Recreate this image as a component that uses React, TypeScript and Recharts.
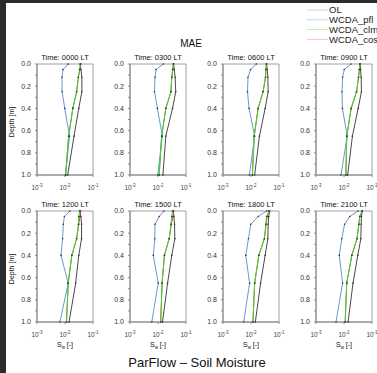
import { ScatterChart, Scatter, XAxis, YAxis, ReferenceArea } from 'recharts';

// depth nodes of the profiles [m]
const depths = [0, 0.05, 0.12, 0.25, 0.4, 0.65, 1.0];
const times = ['0000', '0300', '0600', '0900', '1200', '1500', '1800', '2100'];

// MAE of S_w per hour, one profile per panel
const olProfiles = [
  [0.035, 0.037, 0.04, 0.04, 0.031, 0.021, 0.0125],
  [0.036, 0.038, 0.041, 0.043, 0.033, 0.019, 0.015],
  [0.036, 0.038, 0.04, 0.041, 0.032, 0.02, 0.0135],
  [0.037, 0.039, 0.041, 0.042, 0.032, 0.02, 0.0135],
  [0.034, 0.037, 0.039, 0.039, 0.031, 0.024, 0.014],
  [0.035, 0.037, 0.039, 0.04, 0.031, 0.022, 0.0145],
  [0.046, 0.043, 0.041, 0.04, 0.032, 0.022, 0.0143],
  [0.045, 0.042, 0.041, 0.04, 0.031, 0.021, 0.014],
];
const pflProfiles = [
  [0.013, 0.0085, 0.0078, 0.0079, 0.0098, 0.0145, 0.0105],
  [0.0155, 0.0085, 0.0078, 0.0075, 0.0095, 0.0143, 0.0098],
  [0.0155, 0.0097, 0.0078, 0.0075, 0.0085, 0.0135, 0.0088],
  [0.0178, 0.0102, 0.0089, 0.0085, 0.0088, 0.013, 0.0078],
  [0.015, 0.0095, 0.0087, 0.0082, 0.0072, 0.013, 0.0066],
  [0.0164, 0.011, 0.0078, 0.0077, 0.0068, 0.0102, 0.006],
  [0.036, 0.018, 0.0098, 0.0081, 0.0065, 0.0089, 0.0055],
  [0.032, 0.016, 0.0105, 0.0083, 0.0068, 0.0089, 0.0052],
];
const clmProfiles = [
  [0.035, 0.033, 0.03, 0.026, 0.019, 0.0135, 0.0105],
  [0.035, 0.033, 0.031, 0.029, 0.019, 0.0135, 0.011],
  [0.035, 0.034, 0.033, 0.027, 0.018, 0.013, 0.0112],
  [0.037, 0.035, 0.033, 0.028, 0.018, 0.0125, 0.0117],
  [0.033, 0.031, 0.03, 0.026, 0.0175, 0.013, 0.0113],
  [0.033, 0.031, 0.029, 0.025, 0.017, 0.014, 0.0125],
  [0.043, 0.038, 0.035, 0.03, 0.019, 0.0135, 0.0117],
  [0.043, 0.037, 0.034, 0.029, 0.019, 0.0125, 0.011],
];
const cosProfiles = [
  [0.037, 0.034, 0.03, 0.026, 0.019, 0.0135, 0.0105],
  [0.036, 0.034, 0.031, 0.029, 0.019, 0.0135, 0.011],
  [0.036, 0.034, 0.033, 0.027, 0.018, 0.013, 0.0112],
  [0.038, 0.036, 0.033, 0.028, 0.018, 0.0125, 0.0117],
  [0.036, 0.034, 0.031, 0.026, 0.0175, 0.013, 0.0113],
  [0.036, 0.034, 0.03, 0.025, 0.017, 0.014, 0.0125],
  [0.046, 0.036, 0.034, 0.03, 0.019, 0.0135, 0.0117],
  [0.045, 0.036, 0.034, 0.029, 0.019, 0.0125, 0.011],
];

const seriesNames = ['OL', 'WCDA_pfl', 'WCDA_clm', 'WCDA_cos'];
const xTicks = [0.001, 0.01, 0.1];
const yTicks = [0, 0.1, 0.2, 0.3, 0.4, 0.5, 0.6, 0.7, 0.8, 0.9, 1.0];

const lineColors: Record<string, string> = {
  OL: '#4a4a4a',
  WCDA_pfl: '#6a98d0',
  WCDA_clm: '#2ee02e',
  WCDA_cos: '#e23b3b',
};
const legendColors: Record<string, string> = {
  OL: '#d4d4d4',
  WCDA_pfl: '#c4d6ef',
  WCDA_clm: '#b8f2b8',
  WCDA_cos: '#f5c4c4',
};

const FONT = '"Liberation Sans", Arial, Helvetica, sans-serif';
const PLOT_W = 56;
const PLOT_H = 111;
const AXIS_W = 30;
const TOP_PAD = 6;
const colLeft = [37, 130, 223, 316];
const rowTop = [64, 211];

const toPoints = (vals: number[]) => vals.map((v, i) => ({ v, d: depths[i] }));

function Marker(props: any) {
  const { cx, cy } = props;
  if (cx == null || cy == null) return null;
  return <circle cx={cx} cy={cy} r={0.8} fill="#333" />;
}

function LogTick({ x, y, payload }: any) {
  const exp = Math.round(Math.log10(payload.value));
  return (
    <text x={x} y={y} dy={11} textAnchor="middle" fontSize={6.5} fill="#444" fontFamily={FONT}>
      10
      <tspan dy={-3} fontSize={4.5}>
        {exp}
      </tspan>
    </text>
  );
}

function Text({ x, y, size, children, rotate }: any) {
  return (
    <div
      style={{
        position: 'absolute',
        left: x,
        top: y,
        transform: `translate(-50%, -50%)${rotate ? ' rotate(-90deg)' : ''}`,
        fontSize: size,
        lineHeight: 1,
        whiteSpace: 'nowrap',
        color: '#111',
      }}
    >
      {children}
    </div>
  );
}

function Panel({ idx }: { idx: number }) {
  const col = idx % 4;
  const row = Math.floor(idx / 4);
  // draw order: OL, cos, pfl, clm (green on top, red only shows where it differs)
  const series = [
    { name: 'OL', data: toPoints(olProfiles[idx]) },
    { name: 'WCDA_cos', data: toPoints(cosProfiles[idx]) },
    { name: 'WCDA_pfl', data: toPoints(pflProfiles[idx]) },
    { name: 'WCDA_clm', data: toPoints(clmProfiles[idx]) },
  ];
  return (
    <div style={{ position: 'absolute', left: colLeft[col] - AXIS_W, top: rowTop[row] - TOP_PAD }}>
      <ScatterChart
        width={AXIS_W + PLOT_W + 8}
        height={PLOT_H + 30 + TOP_PAD}
        margin={{ top: TOP_PAD, right: 8, bottom: 0, left: 0 }}
      >
        <XAxis
          type="number"
          dataKey="v"
          scale="log"
          domain={[0.001, 0.1]}
          ticks={xTicks}
          interval={0}
          height={30}
          tickSize={2}
          stroke="#888"
          tick={<LogTick />}
          allowDataOverflow
        />
        <YAxis
          type="number"
          dataKey="d"
          domain={[0, 1]}
          reversed
          ticks={yTicks}
          interval={0}
          width={AXIS_W}
          tickSize={2}
          tickMargin={4}
          stroke="#888"
          tick={{ fontSize: 7, fill: '#333', fontFamily: FONT }}
          tickFormatter={(v: number) => (Math.round(v * 10) % 2 === 0 ? v.toFixed(1) : '')}
        />
        <ReferenceArea x1={0.001} x2={0.1} y1={0} y2={1} fill="none" stroke="#888" strokeWidth={0.8} />
        {series.map((s) => (
          <Scatter
            key={s.name}
            name={s.name}
            data={s.data}
            line={{ stroke: lineColors[s.name], strokeWidth: 1 }}
            lineType="joint"
            shape={<Marker />}
            isAnimationActive={false}
          />
        ))}
      </ScatterChart>
    </div>
  );
}

export default function App() {
  return (
    <div
      style={{
        position: 'fixed',
        left: 0,
        top: 0,
        width: 377,
        height: 373,
        overflow: 'hidden',
        background: '#2b2b2b',
        fontFamily: FONT,
      }}
    >
      <div style={{ position: 'absolute', left: 6, top: 3, right: 0, bottom: 0, background: '#fff' }}>
        <div style={{ position: 'absolute', left: -6, top: -3, width: 377, height: 373 }}>
          {times.map((t, i) => (
            <Panel key={t} idx={i} />
          ))}
          {times.map((t, i) => (
            <Text key={'t' + t} x={colLeft[i % 4] + PLOT_W / 2} y={rowTop[Math.floor(i / 4)] - 6} size={7.5}>
              Time: {t} LT
            </Text>
          ))}
          {rowTop.map((top) => (
            <Text key={'d' + top} x={11} y={top + 58} size={7} rotate>
              Depth [m]
            </Text>
          ))}
          {colLeft.map((left) => (
            <Text key={'s' + left} x={left + PLOT_W / 2} y={346} size={7}>
              S<sub style={{ fontSize: 4.5 }}>w</sub> [-]
            </Text>
          ))}
          <Text x={191} y={44} size={10}>
            MAE
          </Text>
          <Text x={197} y={362} size={13}>
            ParFlow – Soil Moisture
          </Text>
          <svg style={{ position: 'absolute', left: 0, top: 0 }} width={377} height={50}>
            {seriesNames.map((n, i) => (
              <g key={n}>
                <line x1={307} x2={328} y1={10 + i * 9.8} y2={10 + i * 9.8} stroke={legendColors[n]} strokeWidth={1} />
                <text x={329} y={10 + i * 9.8} dy={3.3} fontSize={9.5} fill="#222" fontFamily={FONT}>
                  {n}
                </text>
              </g>
            ))}
          </svg>
        </div>
      </div>
    </div>
  );
}
